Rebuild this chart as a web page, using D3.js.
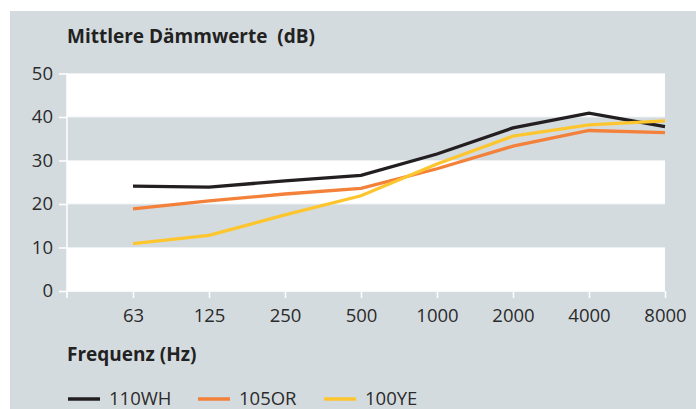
<!DOCTYPE html>
<html><head><meta charset="utf-8">
<script src="https://cdn.jsdelivr.net/npm/d3@7"></script>
<style>body{margin:0;background:#fff}svg{display:block}text{font-family:"Open Sans",Lato,sans-serif}</style>
</head><body><div id="c"></div>
<script>
const categories = ["63","125","250","500","1000","2000","4000","8000"];
const s110WH = [24.1, 23.9, 25.3, 26.6, 31.5, 37.5, 40.9, 37.8];
const s105OR = [18.9, 20.7, 22.3, 23.6, 28.1, 33.3, 36.9, 36.4];
const s100YE = [10.9, 12.8, 17.5, 21.9, 29.2, 35.6, 38.2, 39.1];
const yTicks = [0,10,20,30,40,50];
const seriesNames = ["110WH","105OR","100YE"];
const colors = ["#231f20","#f3813a","#fdc62f"];

const W=696,H=409;
const svg=d3.select("#c").append("svg").attr("width",W).attr("height",H);
svg.append("rect").attr("x",10).attr("y",11).attr("width",W-10).attr("height",H-11).attr("fill","#d4dbdf");

const y=d3.scaleLinear().domain([0,50]).range([291,73.5]);
const x=d3.scaleLinear().domain([0,7]).range([133,665]);
const xl=67, xr=665;

[[40,50],[20,30],[0,10]].forEach(([a,b])=>{
  svg.append("rect").attr("x",xl).attr("width",xr-xl).attr("y",y(b)).attr("height",y(a)-y(b)).attr("fill","#fff");
});
yTicks.forEach(t=>{
  svg.append("line").attr("x1",xl).attr("x2",xr).attr("y1",y(t)).attr("y2",y(t)).attr("stroke","#eef1f2").attr("stroke-width",1);
});

const ya=svg.append("g").attr("transform",`translate(${xl},0)`)
  .call(d3.axisLeft(y).tickValues(yTicks).tickSize(8).tickPadding(6));
ya.select(".domain").attr("stroke","#fff").attr("stroke-width",1.5).attr("d",`M0,${y(50)}V${y(0)+7}`);
ya.selectAll(".tick line").attr("stroke","#fff").attr("stroke-width",1.5);
ya.selectAll(".tick text").attr("fill","#2b2b2b").style("font-size","18.5px").style("font-family","'Open Sans',sans-serif");

const xa=svg.append("g").attr("transform",`translate(0,${y(0)})`)
  .call(d3.axisBottom(x).tickValues(d3.range(8)).tickFormat(i=>categories[i]).tickSize(7).tickPadding(11));
xa.select(".domain").attr("stroke","#fff").attr("stroke-width",1.5).attr("d",`M${xl},0H${xr}`);
xa.selectAll(".tick line").attr("stroke","#fff").attr("stroke-width",1.5);
xa.selectAll(".tick text").attr("fill","#2b2b2b").style("font-size","18.5px").style("font-family","'Open Sans',sans-serif");

const line=d3.line().x((d,i)=>x(i)).y(d=>y(d));
[s110WH,s105OR,s100YE].forEach((s,k)=>{
  svg.append("path").datum(s).attr("d",line).attr("fill","none").attr("stroke",colors[k]).attr("stroke-width",3.3).attr("stroke-linejoin","miter");
});

svg.append("text").attr("x",67).attr("y",43).text("Mittlere Dämmwerte  (dB)")
  .attr("fill","#222").style("font-size","19px").style("font-weight","700").attr("xml:space","preserve");
svg.append("text").attr("x",67).attr("y",361).text("Frequenz (Hz)")
  .attr("fill","#222").style("font-size","19px").style("font-weight","700");

const lx=[68,198,324];
seriesNames.forEach((n,k)=>{
  svg.append("line").attr("x1",lx[k]).attr("x2",lx[k]+32).attr("y1",399).attr("y2",399).attr("stroke",colors[k]).attr("stroke-width",3.5);
  svg.append("text").attr("x",lx[k]+41).attr("y",405).text(n).attr("fill","#2b2b2b").style("font-size","18.5px");
});
</script></body></html>
